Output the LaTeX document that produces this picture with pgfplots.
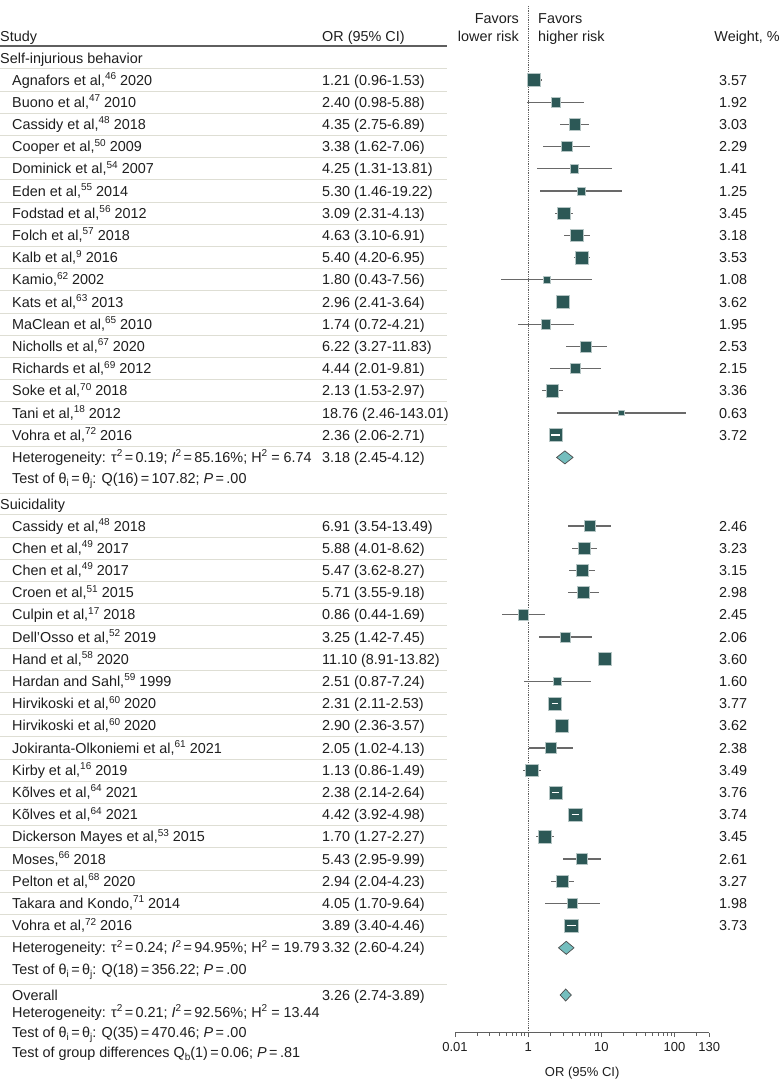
\documentclass[border=0pt]{standalone}
\usepackage{fontspec}
\setmainfont{Liberation Sans}
\usepackage{pgfplots}
\usepackage{pgfplotstable}
\pgfplotsset{compat=1.18}
\definecolor{sq}{RGB}{44,88,86}
\definecolor{dia}{RGB}{116,190,190}
\definecolor{cicol}{RGB}{105,105,105}
\definecolor{txt}{RGB}{30,30,30}
\definecolor{rowline}{RGB}{222,222,212}
\definecolor{hdr}{RGB}{95,95,95}
\newcommand\sups[1]{\raisebox{5.5pt}{\fontsize{10}{10}\selectfont #1}}
\newcommand\subs[1]{\raisebox{-3pt}{\fontsize{10}{10}\selectfont #1}}
\newcommand\eq{\,=\,}

% y = minus the row position (px from top)
\pgfplotstableread{
y or lo hi w
-80.0 1.21 0.96 1.53 3.57
-102.2 2.40 0.98 5.88 1.92
-124.4 4.35 2.75 6.89 3.03
-146.6 3.38 1.62 7.06 2.29
-168.8 4.25 1.31 13.81 1.41
-191.0 5.30 1.46 19.22 1.25
-213.2 3.09 2.31 4.13 3.45
-235.4 4.63 3.10 6.91 3.18
-257.6 5.40 4.20 6.95 3.53
-279.8 1.80 0.43 7.56 1.08
-302.0 2.96 2.41 3.64 3.62
-324.2 1.74 0.72 4.21 1.95
-346.4 6.22 3.27 11.83 2.53
-368.6 4.44 2.01 9.81 2.15
-390.8 2.13 1.53 2.97 3.36
-413.0 18.76 2.46 143.01 0.63
-435.2 2.36 2.06 2.71 3.72
}\sibtab
\pgfplotstableread{
y or lo hi w
-526.0 6.91 3.54 13.49 2.46
-548.2 5.88 4.01 8.62 3.23
-570.4 5.47 3.62 8.27 3.15
-592.6 5.71 3.55 9.18 2.98
-614.8 0.86 0.44 1.69 2.45
-637.0 3.25 1.42 7.45 2.06
-659.2 11.10 8.91 13.82 3.60
-681.4 2.51 0.87 7.24 1.60
-703.6 2.31 2.11 2.53 3.77
-725.8 2.90 2.36 3.57 3.62
-748.0 2.05 1.02 4.13 2.38
-770.2 1.13 0.86 1.49 3.49
-792.4 2.38 2.14 2.64 3.76
-814.6 4.42 3.92 4.98 3.74
-836.8 1.70 1.27 2.27 3.45
-859.0 5.43 2.95 9.99 2.61
-881.2 2.94 2.04 4.23 3.27
-903.4 4.05 1.70 9.64 1.98
-925.6 3.89 3.40 4.46 3.73
}\suitab

\tikzset{
  tx/.style={anchor=base west, inner sep=0pt, text=txt, font=\fontsize{14.4}{16}\selectfont},
  txr/.style={anchor=base east, inner sep=0pt, text=txt, font=\fontsize{14.4}{16}\selectfont},
}

\begin{document}
\begin{tikzpicture}
\path[use as bounding box] (0pt,0pt) rectangle (780pt,-1090pt);

% header
\node[tx] at (0pt,-41.5pt) {Study};
\node[tx] at (322pt,-41.5pt) {OR (95\% CI)};
\node[txr] at (519pt,-23.5pt) {Favors};
\node[txr] at (519pt,-41.5pt) {lower risk};
\node[tx] at (538pt,-23.5pt) {Favors};
\node[tx] at (538pt,-41.5pt) {higher risk};
\node[txr] at (780pt,-41.5pt) {Weight, \%};
\draw[hdr, line width=2pt] (0pt,-46pt) -- (447pt,-46pt);

% row rules
\foreach \i in {0,...,16}{
  \pgfmathsetmacro\yl{-(80+22.2*\i)+11.1}
  \draw[rowline, line width=0.9pt] (0pt,\yl pt) -- (447pt,\yl pt);
}
\foreach \j in {0,...,18}{
  \pgfmathsetmacro\yl{-(526+22.2*\j)+11.1}
  \draw[rowline, line width=0.9pt] (0pt,\yl pt) -- (447pt,\yl pt);
}
\foreach \yl in {446.3,493,936.7,984}{
  \draw[rowline, line width=0.9pt] (0pt,-\yl pt) -- (447pt,-\yl pt);
}

% group headers
\node[tx] at (0pt,-63.5pt) {Self-injurious behavior};
\node[tx] at (0pt,-509.5pt) {Suicidality};

\foreach \nm/\orv/\wt [count=\i from 0] in {
 {Agnafors et al,\sups{46} 2020}/{1.21 (0.96-1.53)}/3.57,
 {Buono et al,\sups{47} 2010}/{2.40 (0.98-5.88)}/1.92,
 {Cassidy et al,\sups{48} 2018}/{4.35 (2.75-6.89)}/3.03,
 {Cooper et al,\sups{50} 2009}/{3.38 (1.62-7.06)}/2.29,
 {Dominick et al,\sups{54} 2007}/{4.25 (1.31-13.81)}/1.41,
 {Eden et al,\sups{55} 2014}/{5.30 (1.46-19.22)}/1.25,
 {Fodstad et al,\sups{56} 2012}/{3.09 (2.31-4.13)}/3.45,
 {Folch et al,\sups{57} 2018}/{4.63 (3.10-6.91)}/3.18,
 {Kalb et al,\sups{9} 2016}/{5.40 (4.20-6.95)}/3.53,
 {Kamio,\sups{62} 2002}/{1.80 (0.43-7.56)}/1.08,
 {Kats et al,\sups{63} 2013}/{2.96 (2.41-3.64)}/3.62,
 {MaClean et al,\sups{65} 2010}/{1.74 (0.72-4.21)}/1.95,
 {Nicholls et al,\sups{67} 2020}/{6.22 (3.27-11.83)}/2.53,
 {Richards et al,\sups{69} 2012}/{4.44 (2.01-9.81)}/2.15,
 {Soke et al,\sups{70} 2018}/{2.13 (1.53-2.97)}/3.36,
 {Tani et al,\sups{18} 2012}/{18.76 (2.46-143.01)}/0.63,
 {Vohra et al,\sups{72} 2016}/{2.36 (2.06-2.71)}/3.72}{
  \pgfmathsetmacro\yy{-(80+22.2*\i)-5}
  \node[tx] at (12pt,\yy pt) {\nm};
  \node[tx] at (322pt,\yy pt) {\orv};
  \node[tx] at (719pt,\yy pt) {\wt};
}

\foreach \nm/\orv/\wt [count=\i from 0] in {
 {Cassidy et al,\sups{48} 2018}/{6.91 (3.54-13.49)}/2.46,
 {Chen et al,\sups{49} 2017}/{5.88 (4.01-8.62)}/3.23,
 {Chen et al,\sups{49} 2017}/{5.47 (3.62-8.27)}/3.15,
 {Croen et al,\sups{51} 2015}/{5.71 (3.55-9.18)}/2.98,
 {Culpin et al,\sups{17} 2018}/{0.86 (0.44-1.69)}/2.45,
 {Dell’Osso et al,\sups{52} 2019}/{3.25 (1.42-7.45)}/2.06,
 {Hand et al,\sups{58} 2020}/{11.10 (8.91-13.82)}/3.60,
 {Hardan and Sahl,\sups{59} 1999}/{2.51 (0.87-7.24)}/1.60,
 {Hirvikoski et al,\sups{60} 2020}/{2.31 (2.11-2.53)}/3.77,
 {Hirvikoski et al,\sups{60} 2020}/{2.90 (2.36-3.57)}/3.62,
 {Jokiranta-Olkoniemi et al,\sups{61} 2021}/{2.05 (1.02-4.13)}/2.38,
 {Kirby et al,\sups{16} 2019}/{1.13 (0.86-1.49)}/3.49,
 {Kõlves et al,\sups{64} 2021}/{2.38 (2.14-2.64)}/3.76,
 {Kõlves et al,\sups{64} 2021}/{4.42 (3.92-4.98)}/3.74,
 {Dickerson Mayes et al,\sups{53} 2015}/{1.70 (1.27-2.27)}/3.45,
 {Moses,\sups{66} 2018}/{5.43 (2.95-9.99)}/2.61,
 {Pelton et al,\sups{68} 2020}/{2.94 (2.04-4.23)}/3.27,
 {Takara and Kondo,\sups{71} 2014}/{4.05 (1.70-9.64)}/1.98,
 {Vohra et al,\sups{72} 2016}/{3.89 (3.40-4.46)}/3.73}{
  \pgfmathsetmacro\yy{-(526+22.2*\i)-5}
  \node[tx] at (12pt,\yy pt) {\nm};
  \node[tx] at (322pt,\yy pt) {\orv};
  \node[tx] at (719pt,\yy pt) {\wt};
}

% summaries
\node[tx] at (12pt,-462.4pt) {Heterogeneity: τ\sups{2}\eq 0.19; \textit{I}\sups{2}\eq 85.16\%; H\sups{2} = 6.74};
\node[tx] at (322pt,-462.4pt) {3.18 (2.45-4.12)};
\node[tx] at (12pt,-483.5pt) {Test of θ\subs{i}\eq θ\subs{j}: Q(16)\eq 107.82; \textit{P}\eq .00};
\node[tx] at (12pt,-952.8pt) {Heterogeneity: τ\sups{2}\eq 0.24; \textit{I}\sups{2}\eq 94.95\%; H\sups{2} = 19.79};
\node[tx] at (322pt,-952.8pt) {3.32 (2.60-4.24)};
\node[tx] at (12pt,-974pt) {Test of θ\subs{i}\eq θ\subs{j}: Q(18)\eq 356.22; \textit{P}\eq .00};
\node[tx] at (12pt,-1000pt) {Overall};
\node[tx] at (322pt,-1000pt) {3.26 (2.74-3.89)};
\node[tx] at (12pt,-1017pt) {Heterogeneity: τ\sups{2}\eq 0.21; \textit{I}\sups{2}\eq 92.56\%; H\sups{2} = 13.44};
\node[tx] at (12pt,-1037pt) {Test of θ\subs{i}\eq θ\subs{j}: Q(35)\eq 470.46; \textit{P}\eq .00};
\node[tx] at (12pt,-1057pt) {Test of group differences Q\subs{b}(1)\eq 0.06; \textit{P}\eq .81};

\begin{axis}[
  at={(455pt,-1032.7pt)}, anchor=south west, scale only axis,
  width=254.3pt, height=1032.7pt,
  xmode=log, xmin=0.1, xmax=300, ymin=-1032.7, ymax=0,
  axis x line*=bottom, axis y line=none,
  x axis line style={-, draw=hdr, line width=0.8pt},
  xtick={0.1,1,10,100,300}, xticklabels={0.01,1,10,100,130},
  minor xtick={0.2,0.3,0.4,0.5,0.6,0.7,0.8,0.9,2,3,4,5,6,7,8,9,20,30,40,50,60,70,80,90,200},
  tick align=outside, major tick length=4.5pt, minor tick length=3pt,
  every tick/.style={draw=hdr, line width=0.8pt},
  ticklabel style={font=\fontsize{13}{15}\selectfont, text=txt, yshift=-2pt},
  /pgf/number format/assume math mode=true,
  xlabel={OR (95\% CI)}, xlabel style={font=\fontsize{13}{15}\selectfont, text=txt, yshift=-8pt},
  clip=false, clip mode=individual,
]
\addplot[hdr, densely dotted, line width=0.8pt] coordinates {(1,-6) (1,-1032.7)};
% CIs
\addplot[only marks, mark=none, error bars/.cd, x dir=both, x explicit, error mark=none,
  error bar style={draw=cicol, line width=1.1pt}]
  table[x=or, y=y, x error plus expr=\thisrow{hi}-\thisrow{or}, x error minus expr=\thisrow{or}-\thisrow{lo}] {\sibtab};
\addplot[only marks, mark=none, error bars/.cd, x dir=both, x explicit, error mark=none,
  error bar style={draw=cicol, line width=1.1pt}]
  table[x=or, y=y, x error plus expr=\thisrow{hi}-\thisrow{or}, x error minus expr=\thisrow{or}-\thisrow{lo}] {\suitab};
% squares
\addplot[scatter, only marks, mark=square*,
  scatter/use mapped color={draw=sq!35!white, fill=sq},
  mark options={line width=0.6pt},
  visualization depends on={3.4*sqrt(\thisrow{w}) \as \msz},
  scatter/@pre marker code/.append style={/tikz/mark size=\msz}]
  table[x=or, y=y] {\sibtab};
\addplot[scatter, only marks, mark=square*,
  scatter/use mapped color={draw=sq!35!white, fill=sq},
  mark options={line width=0.6pt},
  visualization depends on={3.4*sqrt(\thisrow{w}) \as \msz},
  scatter/@pre marker code/.append style={/tikz/mark size=\msz}]
  table[x=or, y=y] {\suitab};
% CIs lying inside their square, drawn as a white bar on top
\addplot[white, line width=1.6pt, mark=none] coordinates {(2.06,-435.2) (2.71,-435.2)};
\addplot[white, line width=1.6pt, mark=none] coordinates {(2.11,-703.6) (2.53,-703.6)};
\addplot[white, line width=1.6pt, mark=none] coordinates {(2.14,-792.4) (2.64,-792.4)};
\addplot[white, line width=1.6pt, mark=none] coordinates {(3.92,-814.6) (4.98,-814.6)};
\addplot[white, line width=1.6pt, mark=none] coordinates {(3.40,-925.6) (4.46,-925.6)};
% pooled diamonds
\addplot[fill=dia, draw=black!70, line width=0.7pt] coordinates {(2.45,-457.4) (3.18,-450.9) (4.12,-457.4) (3.18,-463.9)} --cycle;
\addplot[fill=dia, draw=black!70, line width=0.7pt] coordinates {(2.60,-947.8) (3.32,-941.3) (4.24,-947.8) (3.32,-954.3)} --cycle;
\addplot[fill=dia, draw=black!70, line width=0.7pt] coordinates {(2.74,-995) (3.26,-989) (3.89,-995) (3.26,-1001)} --cycle;
\end{axis}
\end{tikzpicture}
\end{document}
